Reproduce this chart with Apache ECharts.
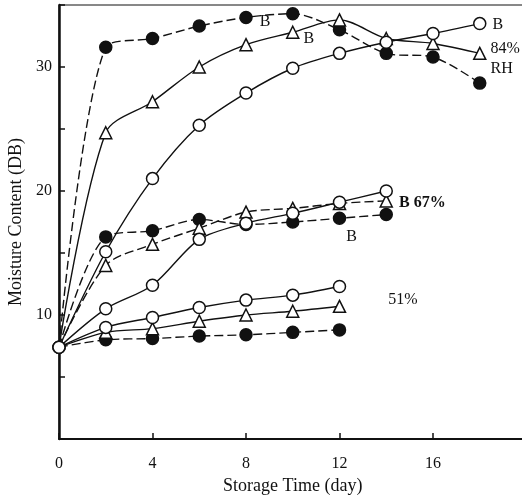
<!DOCTYPE html>
<html>
<head>
<meta charset="utf-8">
<script src="https://cdn.jsdelivr.net/npm/echarts@6/dist/echarts.min.js"></script>
<style>
  html, body { margin: 0; padding: 0; background: #fff; }
  #chart { width: 522px; height: 495px; }
</style>
</head>
<body>
<div id="chart"></div>
<script>
// 横轴：储藏天数
const days84 = [0, 2, 4, 6, 8, 10, 12, 14, 16, 18];
const days67 = [0, 2, 4, 6, 8, 10, 12, 14];
const days51 = [0, 2, 4, 6, 8, 10, 12];

// 84% RH
const rh84Filled = [7.4, 31.6, 32.3, 33.3, 34.0, 34.3, 33.0, 31.1, 30.8, 28.7];
const rh84Tri    = [7.4, 24.7, 27.2, 30.0, 31.8, 32.8, 33.8, 32.3, 31.9, 31.1];
const rh84Open   = [7.4, 15.1, 21.0, 25.3, 27.9, 29.9, 31.1, 32.0, 32.7, 33.5];

// 67% RH
const rh67Filled = [7.4, 16.3, 16.8, 17.7, 17.3, 17.5, 17.8, 18.1];
const rh67Tri    = [7.4, 14.0, 15.7, 17.0, 18.3, 18.6, 19.0, 19.2];
const rh67Open   = [7.4, 10.5, 12.4, 16.1, 17.4, 18.2, 19.1, 20.0];

// 51% RH
const rh51Filled = [7.4, 8.0, 8.1, 8.3, 8.4, 8.6, 8.8];
const rh51Tri    = [7.4, 8.6, 8.9, 9.5, 10.0, 10.3, 10.7];
const rh51Open   = [7.4, 9.0, 9.8, 10.6, 11.2, 11.6, 12.3];

const ink = '#111';
const serif = 'Liberation Serif';

// 生成一条曲线
const makeSeries = (name, days, values, shape, filled, dashed, notes) => {
      const data = days.map((d, i) => {
            const item = { value: [d, values[i]] };
            // 起点只画一个空心圆
            if (i === 0 && shape !== 'circle-open') item.symbol = 'none';
            if (notes && notes[i]) {
                  item.label = Object.assign({
                        show: true, color: ink, fontFamily: serif, fontSize: 16
                  }, notes[i]);
            }
            return item;
      });
      return {
            name: name,
            type: 'line',
            data: data,
            smooth: 0.3,
            symbol: shape === 'triangle' ? 'triangle' : 'circle',
            symbolSize: 12,
            showAllSymbol: true,
            lineStyle: { color: ink, width: 1.4, type: dashed ? [9, 4] : 'solid' },
            itemStyle: {
                  color: filled ? ink : '#fff',
                  borderColor: ink,
                  borderWidth: 1.5
            },
            label: { show: false },
            emphasis: { disabled: true },
            animation: false
      };
};

const series = [
      makeSeries('84 filled', days84, rh84Filled, 'circle', true, true, {
            4: { position: 'right', distance: 7, offset: [0, 4], formatter: 'B' }
      }),
      makeSeries('84 tri', days84, rh84Tri, 'triangle', false, false, {
            5: { position: 'right', distance: 4, offset: [0, 7], formatter: 'B' },
            9: { position: 'right', distance: 4, offset: [0, 5], lineHeight: 20, formatter: '84%\nRH' }
      }),
      makeSeries('84 open', days84, rh84Open, 'circle-open', false, false, {
            9: { position: 'right', distance: 6, offset: [0, 1], formatter: 'B' }
      }),
      makeSeries('67 filled', days67, rh67Filled, 'circle', true, true, {
            6: { position: 'bottom', distance: 2, offset: [12, 2], formatter: 'B' }
      }),
      makeSeries('67 tri', days67, rh67Tri, 'triangle', false, true, {
            7: { position: 'right', distance: 6, offset: [0, 2], formatter: 'B 67%', fontWeight: 'bold' }
      }),
      makeSeries('67 open', days67, rh67Open, 'circle-open', false, false),
      makeSeries('51 filled', days51, rh51Filled, 'circle', true, true),
      makeSeries('51 tri', days51, rh51Tri, 'triangle', false, false, {
            6: { position: 'right', distance: 42, offset: [0, -7], formatter: '51%' }
      }),
      makeSeries('51 open', days51, rh51Open, 'circle-open', false, false)
];

const option = {
      backgroundColor: '#fff',
      animation: false,
      grid: {
            left: 59, top: 5, width: 467.5, height: 434,
            outerBoundsMode: 'none',
            containLabel: false,
            show: true, borderColor: ink, borderWidth: 1
      },
      xAxis: {
            type: 'value',
            min: 0, max: 20, interval: 4,
            name: 'Storage Time (day)',
            nameLocation: 'middle',
            nameGap: 35,
            nameTextStyle: { color: ink, fontFamily: serif, fontSize: 18 },
            axisLine: { lineStyle: { color: ink, width: 2 } },
            axisTick: { inside: true, length: 6, lineStyle: { color: ink, width: 1.5 } },
            axisLabel: {
                  color: ink, fontFamily: serif, fontSize: 16, margin: 17,
                  formatter: (v) => (v % 4 === 0 && v < 20 ? String(v) : '')
            },
            splitLine: { show: false }
      },
      yAxis: {
            type: 'value',
            min: 0, max: 35, interval: 5,
            name: 'Moisture Content (DB)',
            nameLocation: 'middle',
            nameGap: 24,
            nameTextStyle: { color: ink, fontFamily: serif, fontSize: 18 },
            axisLine: { lineStyle: { color: ink, width: 2.5 } },
            axisTick: { inside: true, length: 6, lineStyle: { color: ink, width: 1.5 } },
            axisLabel: {
                  color: ink, fontFamily: serif, fontSize: 16, margin: 7,
                  formatter: (v) => (v % 10 === 0 && v > 0 ? String(v) : '')
            },
            splitLine: { show: false }
      },
      series: series
};

const myChart = echarts.init(document.getElementById('chart'));
myChart.setOption(option);
</script>
</body>
</html>
